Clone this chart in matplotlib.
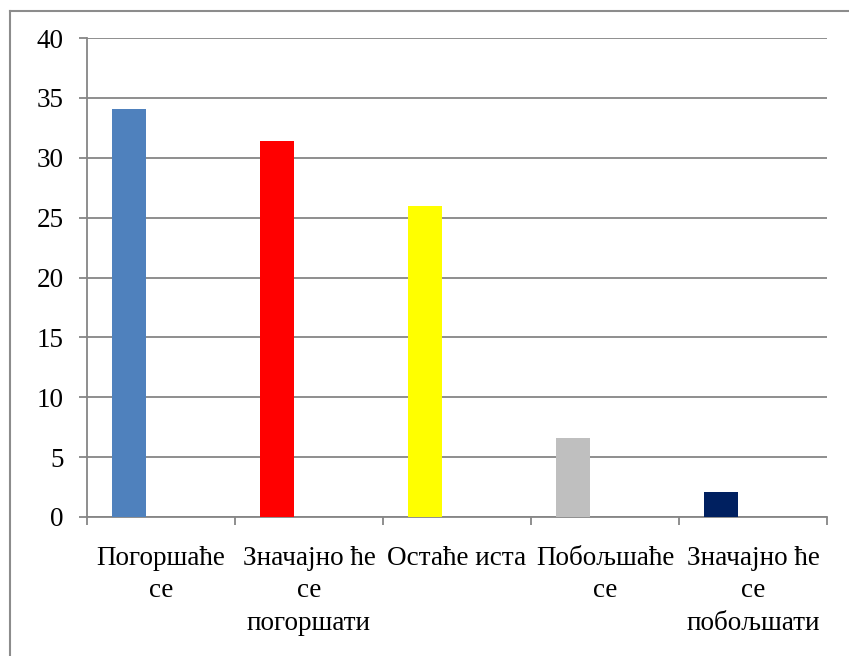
import matplotlib.pyplot as plt
from matplotlib.lines import Line2D
import numpy as np

categories = ["Погоршаће\nсе", "Значајно ће\nсе\nпогоршати", "Остаће иста",
              "Побољшаће\nсе", "Значајно ће\nсе\nпобољшати"]
values = [34.1, 31.4, 26.0, 6.6, 2.1]
colors = ["#4F81BD", "#FF0000", "#FFFF00", "#BFBFBF", "#002060"]

plt.rcParams['font.family'] = ['Liberation Serif', 'DejaVu Serif']

fig = plt.figure(figsize=(8.49, 6.56), dpi=100)
ax = fig.add_axes([87 / 849, 1 - 517 / 656, 740 / 849, 479 / 656])

grid_c = "#868686"
x = np.arange(len(values))
ax.bar(x + 25 / 148, values, width=34 / 148, color=colors, align='edge', zorder=3)

ax.set_xlim(0, len(values))
ax.set_ylim(0, 40)
ax.set_yticks(np.arange(0, 41, 5))
ax.yaxis.grid(True, color=grid_c, linewidth=1.3, zorder=0)

ax.set_xticks(np.arange(0, len(values) + 1))
ax.set_xticklabels([])
ax.set_xticks(x + 0.5, minor=True)
ax.set_xticklabels(categories, minor=True, fontsize=19.5, linespacing=1.38)
ax.tick_params(axis='x', which='major', length=6, color=grid_c, width=1.3)
ax.tick_params(axis='x', which='minor', length=0, pad=21)
ax.tick_params(axis='y', length=6, color=grid_c, width=1.3, labelsize=19.5, pad=11)

for s in ['top', 'right']:
    ax.spines[s].set_visible(False)
for s in ['left', 'bottom']:
    ax.spines[s].set_color(grid_c)
    ax.spines[s].set_linewidth(1.3)

# chart frame: only top and left edges are visible (image is cropped)
fx, fy = 9.5 / 849, 1 - 10.5 / 656
fig.add_artist(Line2D([fx, 1], [fy, fy], transform=fig.transFigure,
                      color="#8C8C8C", linewidth=1.5))
fig.add_artist(Line2D([fx, fx], [0, fy], transform=fig.transFigure,
                      color="#8C8C8C", linewidth=1.5))

fig.savefig("out.png", dpi=100)
